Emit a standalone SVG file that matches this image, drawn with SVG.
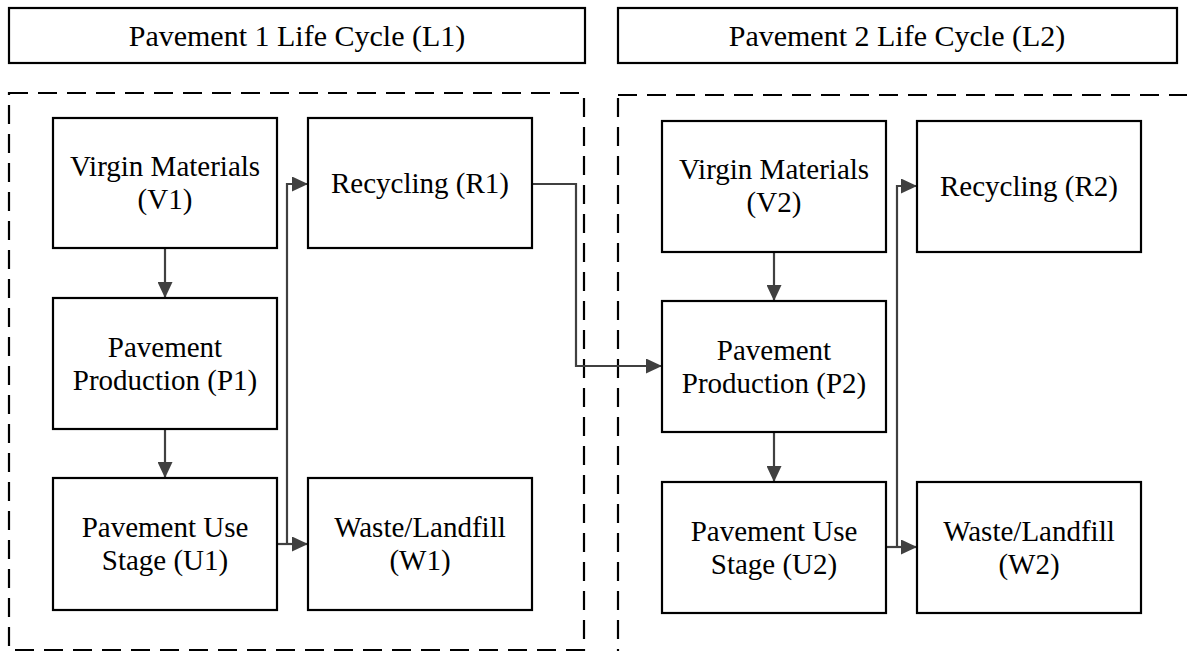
<svg xmlns="http://www.w3.org/2000/svg" width="1187" height="651" viewBox="0 0 1187 651">
<defs>
<style>
.box{fill:#fff;stroke:#000;stroke-width:2.2}
.dash{fill:none;stroke:#000;stroke-width:2.2;stroke-dasharray:19 10}
.t{font-family:"Liberation Serif","Times New Roman",serif;font-size:29px;fill:#000;text-anchor:middle}
.h{font-size:30px}
.c{fill:none;stroke:#404040;stroke-width:2.2}
</style>
<marker id="ah" viewBox="0 0 16 15" refX="16" refY="7.5" markerWidth="16" markerHeight="15" markerUnits="userSpaceOnUse" orient="auto">
<path d="M0,0 L16,7.5 L0,15 z" fill="#404040"/>
</marker>
</defs>
<rect width="1187" height="651" fill="#fff"/>

<g id="L1">
<rect class="box" x="9" y="8" width="576" height="55"/>
<text class="t h" x="297" y="46">Pavement 1 Life Cycle (L1)</text>
<rect class="dash" x="9" y="93" width="575" height="557"/>
</g>
<g id="L2">
<rect class="box" x="618" y="8" width="559" height="55"/>
<text class="t h" x="897" y="46">Pavement 2 Life Cycle (L2)</text>
<rect class="dash" x="618" y="95" width="600" height="600"/>
</g>

<g id="connectors">
<line class="c" x1="165" y1="248" x2="165" y2="298" marker-end="url(#ah)"/>
<line class="c" x1="165" y1="429" x2="165" y2="478" marker-end="url(#ah)"/>
<line class="c" x1="277" y1="544" x2="308" y2="544" marker-end="url(#ah)"/>
<polyline class="c" points="277,544 287,544 287,184 308,184" marker-end="url(#ah)"/>
<polyline class="c" points="532,184 576,184 576,366 662,366" marker-end="url(#ah)"/>
<line class="c" x1="774" y1="252" x2="774" y2="301" marker-end="url(#ah)"/>
<line class="c" x1="774" y1="432" x2="774" y2="482" marker-end="url(#ah)"/>
<line class="c" x1="886" y1="547" x2="917" y2="547" marker-end="url(#ah)"/>
<polyline class="c" points="886,547 897,547 897,186 917,186" marker-end="url(#ah)"/>
</g>

<g id="V1">
<rect class="box" x="53" y="118" width="224" height="130"/>
<text class="t" x="165" y="176">Virgin Materials</text>
<text class="t" x="165" y="209">(V1)</text>
</g>
<g id="R1">
<rect class="box" x="308" y="118" width="224" height="130"/>
<text class="t" x="420" y="193">Recycling (R1)</text>
</g>
<g id="P1">
<rect class="box" x="53" y="298" width="224" height="131"/>
<text class="t" x="165" y="357">Pavement</text>
<text class="t" x="165" y="390">Production (P1)</text>
</g>
<g id="U1">
<rect class="box" x="53" y="478" width="224" height="132"/>
<text class="t" x="165" y="537">Pavement Use</text>
<text class="t" x="165" y="570">Stage (U1)</text>
</g>
<g id="W1">
<rect class="box" x="308" y="478" width="224" height="132"/>
<text class="t" x="420" y="537">Waste/Landfill</text>
<text class="t" x="420" y="570">(W1)</text>
</g>

<g id="V2">
<rect class="box" x="662" y="121" width="224" height="131"/>
<text class="t" x="774" y="179">Virgin Materials</text>
<text class="t" x="774" y="212">(V2)</text>
</g>
<g id="R2">
<rect class="box" x="917" y="121" width="224" height="131"/>
<text class="t" x="1029" y="196">Recycling (R2)</text>
</g>
<g id="P2">
<rect class="box" x="662" y="301" width="224" height="131"/>
<text class="t" x="774" y="360">Pavement</text>
<text class="t" x="774" y="393">Production (P2)</text>
</g>
<g id="U2">
<rect class="box" x="662" y="482" width="224" height="131"/>
<text class="t" x="774" y="541">Pavement Use</text>
<text class="t" x="774" y="574">Stage (U2)</text>
</g>
<g id="W2">
<rect class="box" x="917" y="482" width="224" height="131"/>
<text class="t" x="1029" y="541">Waste/Landfill</text>
<text class="t" x="1029" y="574">(W2)</text>
</g>
</svg>
